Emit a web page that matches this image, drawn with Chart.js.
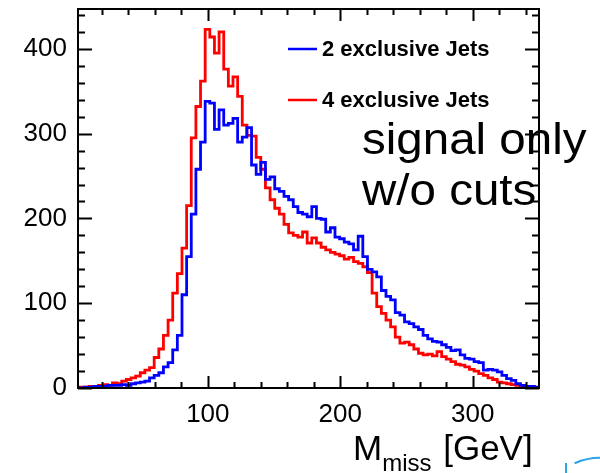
<!DOCTYPE html>
<html>
<head>
<meta charset="utf-8">
<script src="https://cdn.jsdelivr.net/npm/chart.js@4.4.0/dist/chart.umd.min.js"></script>
<style>
  html, body { margin: 0; padding: 0; background: #fff; }
</style>
</head>
<body>
<canvas id="mmiss" width="600" height="473"></canvas>
<script>
// histogram: 100 bins of 3.5 GeV starting at 0
const binWidth = 3.5;
const xTicks = [100, 200, 300];
const yTicks = [0, 100, 200, 300, 400];
const seriesLabels = ['2 exclusive Jets', '4 exclusive Jets'];

const twoJets = [
  0, 0, 1, 1, 2, 2, 2, 3, 3, 3,
  4, 3, 5, 6, 7, 8, 12, 15, 18, 25,
  30, 45, 62, 110, 155, 205, 258, 290, 338, 336,
  305, 328, 310, 312, 318, 290, 296, 307, 263, 252,
  266, 246, 249, 235, 232, 226, 222, 214, 207, 205,
  202, 214, 200, 199, 184, 189, 178, 176, 172, 170,
  163, 179, 155, 140, 137, 131, 115, 108, 104, 89,
  86, 78, 76, 72, 69, 62, 58, 55, 54, 51,
  48, 44, 45, 39, 35, 34, 31, 30, 21, 22,
  21, 19, 15, 11, 9, 5, 3, 2, 2, 1
];

const fourJets = [
  0, 1, 1, 2, 2, 3, 4, 3, 6, 5,
  8, 10, 12, 14, 18, 21, 24, 36, 46, 62,
  80, 112, 135, 165, 215, 295, 332, 362, 423, 414,
  395, 420, 376, 356, 367, 344, 310, 298, 297, 272,
  258, 236, 222, 212, 205, 193, 183, 180, 178, 184,
  171, 177, 171, 166, 163, 160, 158, 156, 152, 154,
  149, 147, 143, 136, 112, 96, 88, 80, 72, 60,
  53, 54, 51, 46, 41, 39, 40, 38, 43, 37,
  34, 31, 28, 27, 25, 22, 20, 17, 15, 12,
  10, 7, 6, 5, 4, 3, 2, 1, 1, 0
];

const fontFamily = '"Liberation Sans", Arial, Helvetica, sans-serif';

// left bin edges, plus closing point at the upper edge
function toSteps(counts) {
  const pts = counts.map((v, i) => ({ x: i * binWidth, y: v }));
  pts.push({ x: counts.length * binWidth, y: counts[counts.length - 1] });
  return pts;
}

// ROOT-like frame with inward ticks on all four sides
const framePlugin = {
  id: 'frame',
  afterDraw(chart) {
    const ctx = chart.ctx;
    const a = chart.chartArea;
    const xs = chart.scales.x;
    const ys = chart.scales.y;
    ctx.save();
    ctx.strokeStyle = '#000';
    ctx.lineWidth = 2;
    ctx.strokeRect(a.left, a.top, a.right - a.left, a.bottom - a.top);
    ctx.beginPath();
    for (let v = 0; v <= xs.max; v += 20) {
      if (v < xs.min) continue;
      const px = Math.round(xs.getPixelForValue(v)) + 0.5;
      const len = v % 100 === 0 ? 12 : 6;
      ctx.moveTo(px, a.bottom); ctx.lineTo(px, a.bottom - len);
      ctx.moveTo(px, a.top); ctx.lineTo(px, a.top + len);
    }
    for (let v = 0; v <= ys.max; v += 20) {
      const py = Math.round(ys.getPixelForValue(v)) + 0.5;
      const len = v % 100 === 0 ? 14 : 7;
      ctx.moveTo(a.left, py); ctx.lineTo(a.left + len, py);
      ctx.moveTo(a.right, py); ctx.lineTo(a.right - len, py);
    }
    ctx.stroke();

    // axis title with subscript
    ctx.fillStyle = '#000';
    ctx.textBaseline = 'alphabetic';
    ctx.textAlign = 'left';
    ctx.font = '35px ' + fontFamily;
    ctx.fillText('M', 353, 460);
    const mW = ctx.measureText('M').width;
    ctx.font = '24px ' + fontFamily;
    ctx.fillText('miss', 353 + mW, 471);
    const sW = ctx.measureText('miss').width;
    ctx.font = '35px ' + fontFamily;
    ctx.fillText(' [GeV]', 353 + mW + sW + 2, 460);

    // stray blue arc in the corner of the slide
    ctx.strokeStyle = '#2aa4e4';
    ctx.lineWidth = 2;
    ctx.beginPath();
    ctx.arc(600, 522, 64, Math.PI * 1.37, Math.PI * 1.62);
    ctx.stroke();
    ctx.beginPath();
    ctx.moveTo(566, 463); ctx.lineTo(566, 473);
    ctx.stroke();
    ctx.restore();
  }
};

// legend + note, drawn over the histograms
const notePlugin = {
  id: 'notes',
  afterDatasetsDraw(chart) {
    const ctx = chart.ctx;
    ctx.save();
    chart.data.datasets.forEach((ds, i) => {
      const y = 49 + i * 51;
      ctx.strokeStyle = ds.borderColor;
      ctx.lineWidth = 2.5;
      ctx.beginPath();
      ctx.moveTo(288, y); ctx.lineTo(317, y);
      ctx.stroke();
      ctx.fillStyle = '#000';
      ctx.font = 'bold 22px ' + fontFamily;
      ctx.textBaseline = 'middle';
      ctx.fillText(ds.label, 322, y + 1);
    });
    ctx.font = '44px ' + fontFamily;
    ctx.textBaseline = 'alphabetic';
    ctx.fillStyle = '#000';
    ctx.save();
    ctx.translate(362, 154);
    ctx.scale(1.08, 1);
    ctx.fillText('signal only', 0, 0);
    ctx.restore();
    ctx.save();
    ctx.translate(362, 205);
    ctx.scale(1.08, 1);
    ctx.fillText('w/o cuts', 0, 0);
    ctx.restore();
    ctx.restore();
  }
};

new Chart(document.getElementById('mmiss'), {
  type: 'line',
  data: {
    datasets: [
      {
        label: seriesLabels[0],
        data: toSteps(twoJets),
        borderColor: '#0000ff',
        borderWidth: 2.8,
        stepped: true,
        pointRadius: 0,
        fill: false
      },
      {
        label: seriesLabels[1],
        data: toSteps(fourJets),
        borderColor: '#ff0000',
        borderWidth: 2.8,
        stepped: true,
        pointRadius: 0,
        fill: false
      }
    ]
  },
  options: {
    responsive: false,
    animation: false,
    devicePixelRatio: 1,
    layout: { padding: { top: 9, right: 61, left: 0, bottom: 0 } },
    plugins: { legend: { display: false }, tooltip: { enabled: false } },
    scales: {
      x: {
        type: 'linear',
        min: 2,
        max: 350,
        grid: { display: false, drawTicks: false },
        border: { display: false },
        ticks: { font: { size: 26, family: fontFamily }, color: '#000', padding: 11, maxRotation: 0 },
        afterBuildTicks: (s) => { s.ticks = xTicks.map(v => ({ value: v })); },
        afterFit: (s) => { s.height = 85; s.paddingLeft = 0; s.paddingRight = 0; }
      },
      y: {
        min: 0,
        max: 447,
        grid: { display: false, drawTicks: false },
        border: { display: false },
        ticks: { font: { size: 26, family: fontFamily }, color: '#000', padding: 11 },
        afterBuildTicks: (s) => { s.ticks = yTicks.map(v => ({ value: v })); },
        afterFit: (s) => { s.width = 78; s.paddingTop = 0; s.paddingBottom = 0; }
      }
    }
  },
  plugins: [framePlugin, notePlugin]
});
</script>
</body>
</html>
